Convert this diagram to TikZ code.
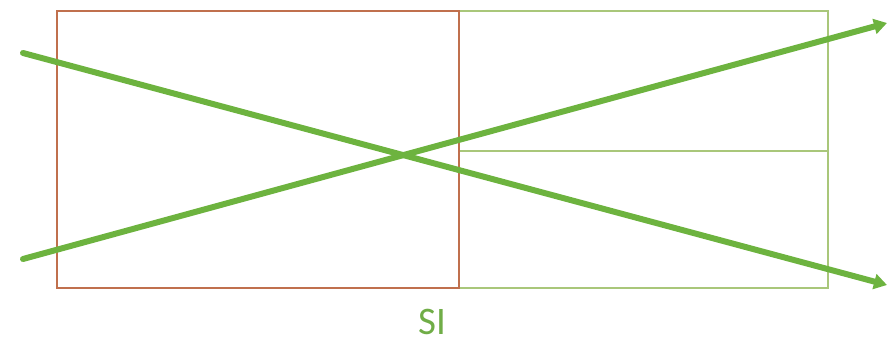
\documentclass[tikz,border=0pt]{standalone}
\usepackage{fontspec}
\setmainfont{Carlito}
\usepackage{tikz}
\usetikzlibrary{positioning, arrows.meta}

\definecolor{boxred}{HTML}{C0704D}
\definecolor{boxgreen}{HTML}{A9C77A}
\definecolor{arrgreen}{HTML}{6DB33F}
\definecolor{lblgreen}{HTML}{70AD47}

\begin{document}
\begin{tikzpicture}[x=1pt, y=-1pt,
  redbox/.style={draw=boxred, line width=1.6pt},
  greenbox/.style={draw=boxgreen, line width=1.6pt},
  arr/.style={arrgreen, line width=6pt, line cap=round, -{Triangle[length=13pt, width=15pt]}},
  lbl/.style={text=lblgreen, font=\fontsize{39}{40}\selectfont, inner sep=0pt}]
\useasboundingbox (0,0) rectangle (887,344);
\coordinate (tl) at (57,11);
\coordinate (tm) at (459,11);
\coordinate (tr) at (828,11);
\coordinate (bl) at (57,288);
\coordinate (bm) at (459,288);
\coordinate (br) at (828,288);
\coordinate (ml) at (459,151);
\coordinate (mr) at (828,151);
\draw[greenbox] (tm) rectangle (br);
\draw[greenbox] (ml) -- (mr);
\draw[redbox] (tl) rectangle (bm);
% the two crossing arrows
\coordinate (s1) at (23,53);
\coordinate (e1) at (887,285);
\coordinate (s2) at (23,259);
\coordinate (e2) at (887,23);
\draw[arr] (s1) -- (e1);
\draw[arr] (s2) -- (e2);
\node[lbl] (si) at (432,322) {SI};
\end{tikzpicture}
\end{document}
